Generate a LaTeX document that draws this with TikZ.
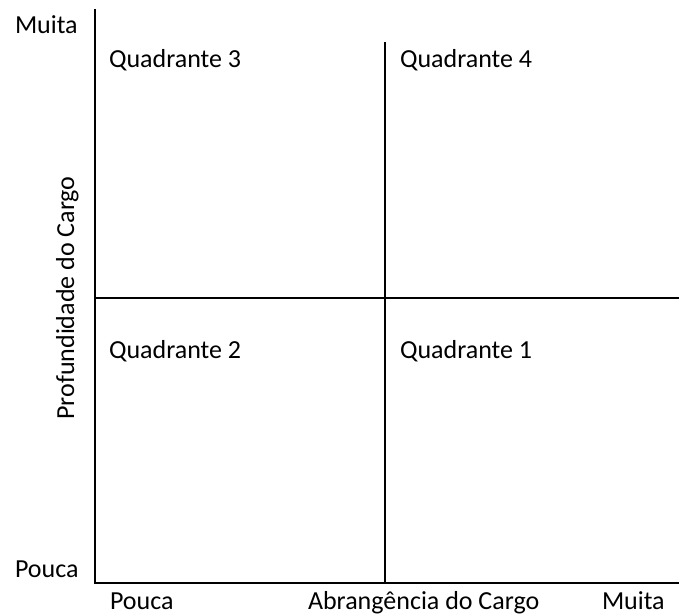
\documentclass[tikz,border=0pt]{standalone}
\usepackage{fontspec}
\setmainfont{Carlito}
\begin{document}
\begin{tikzpicture}[x=1pt,y=-1pt,
  lbl/.style={inner sep=0pt,outer sep=0pt,anchor=base west,font=\fontsize{26}{31}\selectfont},
  axis/.style={line width=2pt,line cap=rect}]
\useasboundingbox (0,0) rectangle (684,615);
\coordinate (top) at (95,10);
\coordinate (origin) at (95,583);
\coordinate (xend) at (678,583);
\coordinate (midtop) at (385,43);
\coordinate (midbot) at (385,583);
\coordinate (midleft) at (95,298);
\coordinate (midright) at (678,298);
\draw[axis] (top) -- (origin) -- (xend);
\draw[axis] (midtop) -- (midbot);
\draw[axis] (midleft) -- (midright);
\node[lbl] (ymax) at (15,34) {Muita};
\node[lbl] (ymin) at (15,577) {Pouca};
\node[lbl] (xmin) at (110,609) {Pouca};
\node[lbl] (xlab) at (308,609) {Abrangência do Cargo};
\node[lbl] (xmax) at (602,609) {Muita};
\node[lbl,anchor=base,rotate=90] (ylab) at (74,298) {Profundidade do Cargo};
\node[lbl] (q3) at (109,68) {Quadrante 3};
\node[lbl] (q4) at (400,68) {Quadrante 4};
\node[lbl] (q2) at (109,358) {Quadrante 2};
\node[lbl] (q1) at (400,358) {Quadrante 1};
\end{tikzpicture}
\end{document}
